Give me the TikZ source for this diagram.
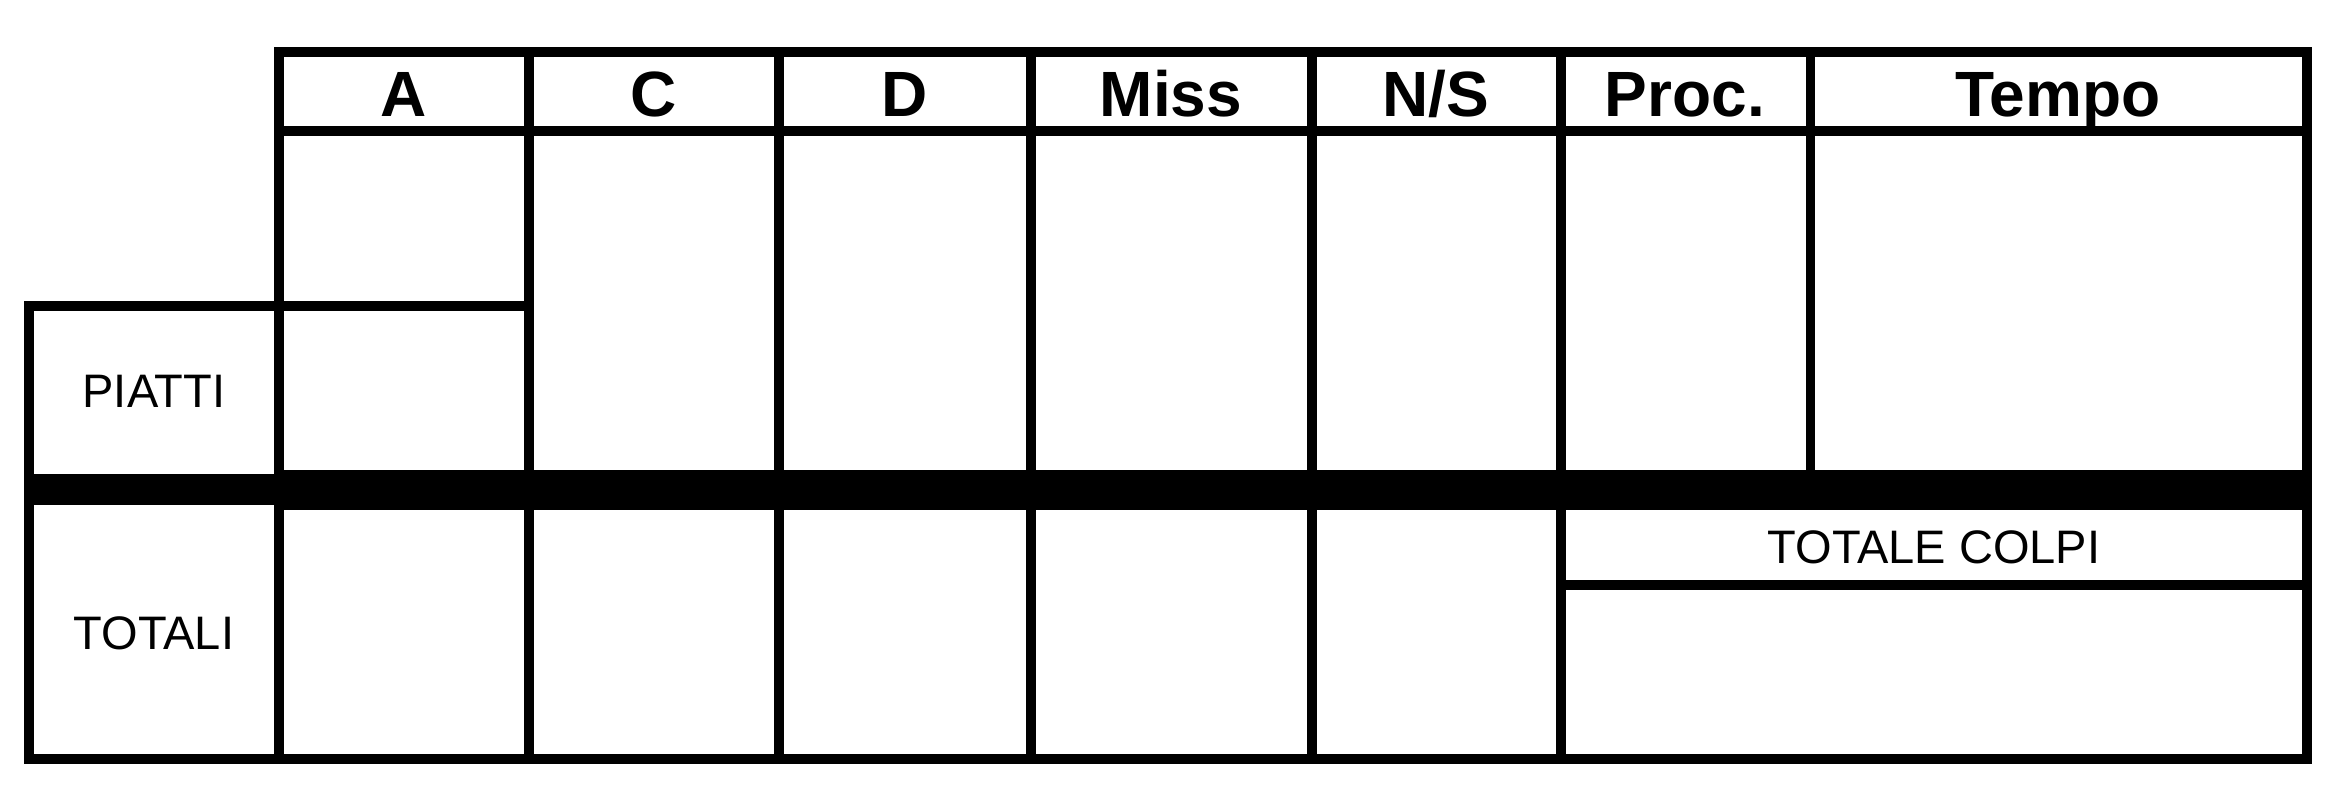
\documentclass[tikz,border=0pt]{standalone}
\usepackage{fontspec}
\setmainfont{Liberation Sans}
\begin{document}
\begin{tikzpicture}[x=1pt,y=-1pt,
  grid/.style={line width=10.5pt, draw=black},
  head/.style={anchor=base, font=\fontsize{64}{70}\selectfont\bfseries, inner sep=0pt},
  body/.style={anchor=base, font=\fontsize{47}{52}\selectfont, inner sep=0pt}]
\useasboundingbox (0,0) rectangle (2344,811);
% bands
\fill (279,470) rectangle (2312,510);
\fill (24,474) rectangle (279,505);
% main frame
\draw[grid] (279,52) rectangle (2307,759);
\draw[grid] (279,131) -- (2307,131);
\foreach \x in {529,779,1031,1312,1561} \draw[grid] (\x,52) -- (\x,759);
\draw[grid, line width=9pt] (1810,52) -- (1810,470);
\draw[grid] (279,306) -- (529,306);
\draw[grid] (1561,585) -- (2307,585);
% left box
\draw[grid] (29,306) rectangle (279,759);
% header texts
\node[head] (hA) at (404,116) {A};
\node[head] (hC) at (654,116) {C};
\node[head] (hD) at (905,116) {D};
\node[head] (hM) at (1171,116) {Miss};
\node[head] (hN) at (1436,116) {N/S};
\node[head] (hP) at (1685,116) {Proc.};
\node[head] (hT) at (2058,116) {Tempo};
% body texts
\node[body] (piatti) at (154,407) {PIATTI};
\node[body] (totali) at (154,649) {TOTALI};
\node[body] (colpi) at (1934,563) {TOTALE COLPI};
\end{tikzpicture}
\end{document}
